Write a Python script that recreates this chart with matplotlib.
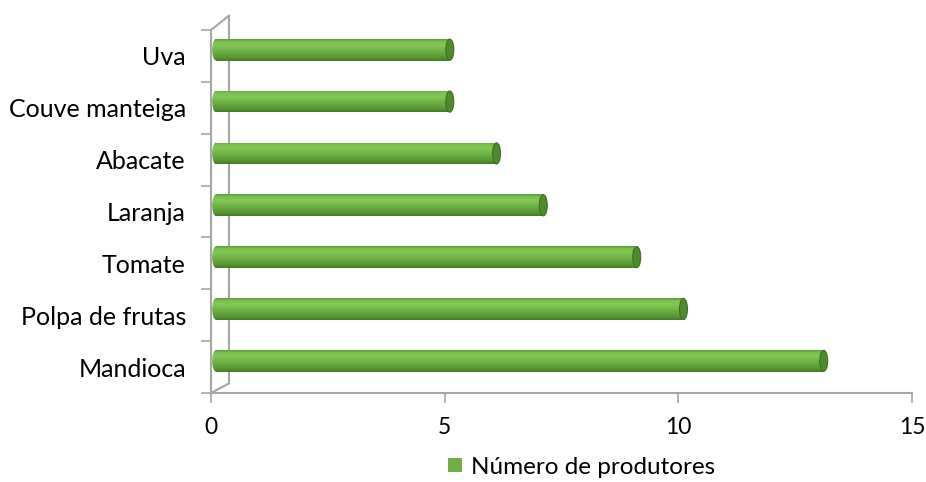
import numpy as np
import matplotlib
matplotlib.use("Agg")
import matplotlib.pyplot as plt
from matplotlib.colors import LinearSegmentedColormap
from matplotlib.patches import Ellipse
from matplotlib.lines import Line2D

plt.rcParams['font.family'] = ['Lato', 'DejaVu Sans']

categories = ['Mandioca', 'Polpa de frutas', 'Tomate', 'Laranja', 'Abacate',
              'Couve manteiga', 'Uva']
values = [13, 10, 9, 7, 6, 5, 5]
series_name = 'Número de produtores'
xticks = [0, 5, 10, 15]

W, H = 926, 482
fig = plt.figure(figsize=(W / 100, H / 100), dpi=100)
# axes box in pixels: x 211..912, y 30..393
ax = fig.add_axes([211 / W, (H - 393) / H, (912 - 211) / W, (393 - 30) / H])

ypos = np.arange(len(categories))
shift = 0.12      # 3d depth shift of the bars
bar_h = 0.42
x_off = 0.11

cyl = LinearSegmentedColormap.from_list('cyl', [
    (0.0, '#467a26'), (0.15, '#5a9535'), (0.45, '#6db243'),
    (0.72, '#82c757'), (0.88, '#7dc150'), (1.0, '#5e9c38')])
grad = np.linspace(0, 1, 64).reshape(-1, 1)

bars = ax.barh(ypos + shift, values, left=x_off, height=bar_h,
               color='none', edgecolor='none')
cap_w = 0.17
for b in bars:
    x0, y0, w, h = b.get_x(), b.get_y(), b.get_width(), b.get_height()
    im = ax.imshow(grad, cmap=cyl, origin='lower', aspect='auto',
                   extent=[x0, x0 + w, y0, y0 + h], zorder=2)
    im.set_clip_path(b)
    left = Ellipse((x0, y0 + h / 2), cap_w, h, facecolor='none', edgecolor='none')
    ax.add_patch(left)
    im2 = ax.imshow(grad, cmap=cyl, origin='lower', aspect='auto',
                    extent=[x0 - cap_w / 2, x0, y0, y0 + h], zorder=2)
    im2.set_clip_path(left)
    ax.add_patch(Ellipse((x0 + w, y0 + h / 2), cap_w, h * 0.97,
                         facecolor='#4f8a2c', edgecolor='#3f7021', lw=0.8, zorder=3))

ax.set_xlim(0, 15)
ax.set_ylim(-0.5, len(categories) - 0.5)

for s in ax.spines.values():
    s.set_visible(False)

gray = '#a6a6a6'
# 3d frame: front left wall line, back wall line, diagonals, floor line
dx, dy = 18 / (912 - 211), 12 / (393 - 30)
frame = [
    ([0, 0], [0, 1]),
    ([dx, dx], [dy * 0.8, 1 + dy * 1.2]),
    ([0, dx], [1, 1 + dy * 1.2]),
    ([0, dx], [0, dy * 0.8]),
    ([0, 1], [0, 0]),
]
for xs, ys in frame:
    ax.add_line(Line2D(xs, ys, transform=ax.transAxes, color=gray, lw=1.5,
                       clip_on=False, zorder=1))

ax.set_yticks(ypos)
ax.set_yticklabels(categories)
ax.set_yticks(np.arange(-0.5, len(categories), 1), minor=True)
ax.tick_params(axis='y', which='major', length=0, pad=18, labelsize=18,
               labelcolor='#000000')
ax.tick_params(axis='y', which='minor', length=7, color=gray, width=1.2)
ax.set_xticks(xticks)
ax.tick_params(axis='x', length=7, color=gray, width=1.2, pad=10,
               labelsize=16.5)

handle = plt.Rectangle((0, 0), 1, 1, facecolor='#70ad47')
fig.legend([handle], [series_name], loc='center', bbox_to_anchor=(582 / W, 1 - 467 / H),
           frameon=False, fontsize=17.5, handlelength=0.55, handleheight=0.55,
           handletextpad=0.4)

fig.savefig('out.png', dpi=100)
